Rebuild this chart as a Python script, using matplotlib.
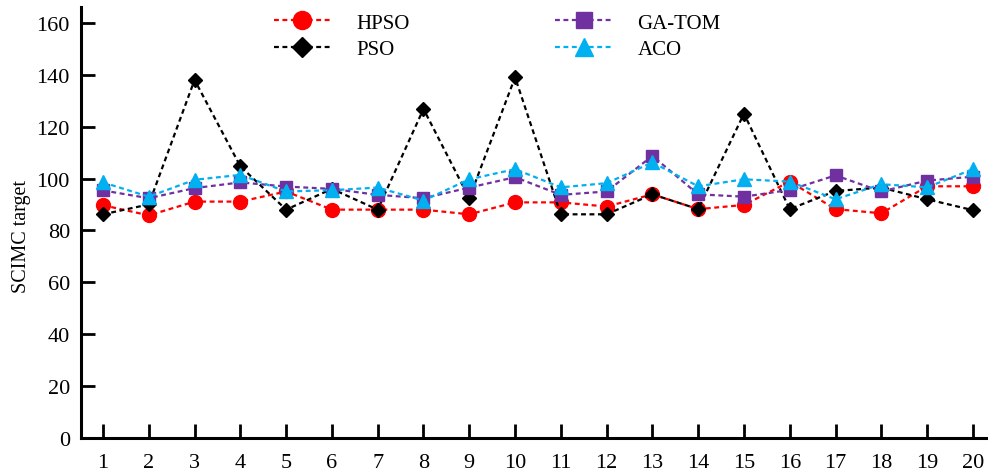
import numpy as np
import matplotlib.pyplot as plt

plt.rcParams['font.family'] = ['Liberation Serif', 'DejaVu Serif']

runs = np.arange(1, 21)
hpso = [89.7, 85.8, 91.1, 91.1, 95.0, 88.0, 88.0, 88.0, 86.2, 90.8,
        90.8, 89.2, 93.9, 88.2, 89.8, 98.8, 88.2, 86.6, 97.0, 97.0]
pso = [86.2, 90.0, 138.0, 104.7, 88.0, 96.0, 88.0, 126.8, 92.4, 139.0,
       86.2, 86.2, 93.9, 88.2, 125.0, 88.2, 95.2, 96.5, 92.0, 87.8]
ga_tom = [95.4, 92.4, 96.3, 98.5, 96.9, 96.0, 93.7, 92.4, 96.5, 100.5,
          93.7, 95.0, 108.7, 93.9, 93.0, 95.6, 101.2, 95.0, 99.2, 100.7]
aco = [98.5, 93.0, 99.5, 101.4, 95.0, 95.5, 96.5, 91.5, 99.7, 103.6,
       96.6, 98.2, 106.2, 97.0, 99.7, 98.8, 92.0, 97.8, 96.6, 103.6]

fig = plt.figure(figsize=(9.88, 4.77), dpi=100)
ax = fig.add_axes([0.082, 0.0797, 0.918, 0.903])

dash = (2.2, 1.6)
ax.plot(runs, hpso, ls='--', dashes=dash, lw=1.6, color='#FF0000', marker='o', ms=10, label='HPSO')
ax.plot(runs, pso, ls='--', dashes=dash, lw=1.6, color='black', marker='D', ms=7.5, label='PSO')
ax.plot(runs, ga_tom, ls='--', dashes=dash, lw=1.6, color='#7030A0', marker='s', ms=8.5, label='GA-TOM')
ax.plot(runs, aco, ls='--', dashes=dash, lw=1.6, color='#00B0F0', marker='^', ms=9.5, label='ACO')

ax.set_xlim(0.52, 20.33)
ax.set_ylim(0, 166)
ax.set_xticks(runs)
ax.set_yticks(np.arange(0, 161, 20))
ax.spines['top'].set_visible(False)
ax.spines['right'].set_visible(False)
for s in ['left', 'bottom']:
    ax.spines[s].set_linewidth(2.2)
ax.tick_params(direction='in', length=10, width=2, labelsize=16)
ax.tick_params(axis='y', pad=8)
ax.tick_params(axis='x', pad=11)
ax.set_ylabel('SCIMC target', fontsize=14.5)
ax.yaxis.set_label_coords(-0.055, 0.47)

ax.legend(ncol=2, frameon=False, fontsize=15, loc='upper left',
          bbox_to_anchor=(0.258, 1.01), bbox_transform=fig.transFigure,
          handlelength=2.75, handletextpad=1.2, columnspacing=7.0,
          labelspacing=0.35, markerscale=1.3)

fig.savefig('out.png', dpi=100)
